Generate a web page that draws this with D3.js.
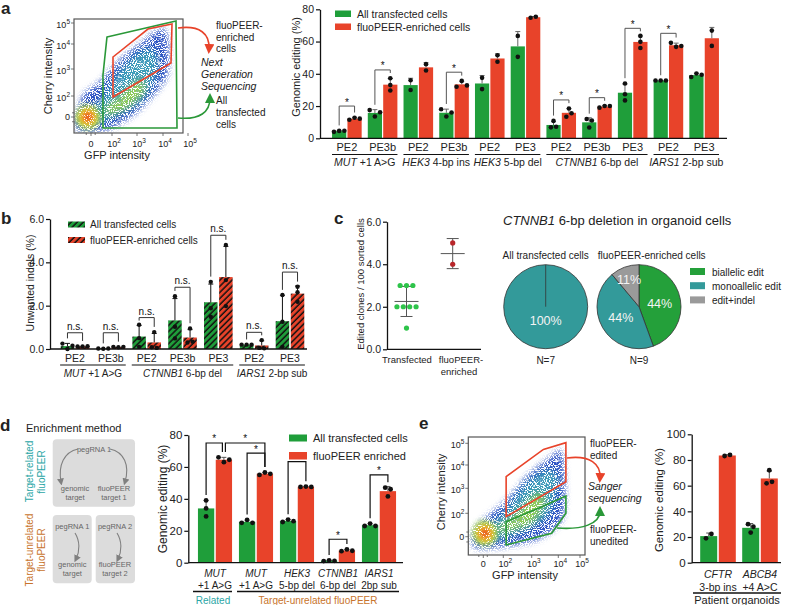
<!DOCTYPE html>
<html>
<head>
<meta charset="utf-8">
<script src="https://cdn.jsdelivr.net/npm/d3@7"></script>
<style>
body { margin: 0; background: #fff; }
svg text { font-family: 'Liberation Sans', Arial, Helvetica, sans-serif; fill: #222; white-space: pre; }
</style>
</head>
<body>
<svg id="fig" width="790" height="605"></svg>
<script>
// ---------- data ----------
// panel a: genomic editing per strategy
const aGroups = ["PE2", "PE3b", "PE2", "PE3b", "PE2", "PE3", "PE2", "PE3b", "PE3", "PE2", "PE3"];
const aGreen = [[4, 4.6, 4.7], [17.5, 13.5, 16.2], [36, 30], [18, 13.5, 16], [37.5, 30.5], [63.5, 50.5],
                [6.8, 10.8, 7.2], [12, 6.7, 11], [34, 27.3, 23.5], [35.8, 35.8, 35.8], [38, 40.2, 39.4]];
const aRed = [[11.5, 12.7, 12.2], [37.2, 33, 29.6], [46, 42], [32, 35.6, 32.8], [51.5, 47.5], [74.8, 75.4],
              [13.4, 18.5, 15.5], [19, 20, 20], [63.5, 59.8, 56], [59.2, 56.7, 57.2], [66.8, 57.3]];
const aSig = [20, 42.4, null, 41, null, null, 23.8, 25.2, 68.2, 65.1, null];
const aGenes = ["MUT", "HEK3", "HEK3", "CTNNB1", "IARS1"];
const aGeneRest = [" +1 A>G", " 4-bp ins", " 5-bp del", " 6-bp del", " 2-bp sub"];
const aGeneSpan = [[0, 1], [2, 3], [4, 5], [6, 8], [9, 10]];

// panel b: unwanted indels
const bGroups = ["PE2", "PE3b", "PE2", "PE3b", "PE3", "PE2", "PE3"];
const bGreen = [[0.25, 0.0, 0.15], [0.02, 0.01, 0.02], [1.12, 0.5, 0.1], [2.44, 1.03, 0.49], [3.1, 1.88, 1.49], [0.2, 0.2, 0.2], [2.49, 1.26, 0.1]];
const bRed = [[0.12, 0.12, 0.13], [0.1, 0.08, 0.1], [0.78, 0.08, 0.05], [0.95, 0.3, 0.34], [4.8, 3.18, 1.98], [0.05, 0.41, 0.03], [2.87, 2.18, 2.62]];
const bSig = [0.75, 0.75, 1.45, 2.85, 5.25, 0.77, 3.55];
const bGenes = ["MUT", "CTNNB1", "IARS1"];
const bGeneRest = [" +1 A>G", " 6-bp del", " 2-bp sub"];
const bGeneSpan = [[0, 1], [2, 4], [5, 6]];

// panel c: clones and pies
const cCats = ["Transfected", "fluoPEER-", "enriched"];
const cTransfected = [3, 3, 3, 2, 2, 2, 2, 1];
const cEnriched = [5, 4];
const pieCats = ["biallelic edit", "monoallelic edit", "edit+indel"];
const pieAll = [0, 7, 0];
const pieFluo = [4, 4, 1];

// panel d: enrichment method
const dGenes = ["MUT", "MUT", "HEK3", "CTNNB1", "IARS1"];
const dRest = ["+1 A>G", "+1 A>G", "5-bp del", "6-bp del", "2bp sub"];
const dGreen = [[39, 34, 29], [25, 26.8, 25], [25.5, 27, 26], [1, 1.5, 1.2], [23, 24.5, 23]];
const dRed = [[66, 63, 64.5], [55, 56.5, 55.7], [47.5, 47.7, 47.5], [7.2, 8.3, 7.5], [47, 41.5, 46]];
// [group, bar, group, bar, level]
const dBrackets = [[0, 0, 0, 1, 75], [0, 1, 1, 1, 75], [1, 0, 1, 1, 68.7], [2, 0, 2, 1, 63.3], [3, 0, 3, 1, 14.7], [4, 0, 4, 1, 55]];

// panel e: patient organoids
const eGenes = ["CFTR", "ABCB4"];
const eRest = ["3-bp ins", "+4 A>C"];
const eGreen = [[19, 22.4], [30, 28, 23.5]];
const eRed = [[83.1, 83.9], [72, 61.8, 63]];

// flow plots (decade units: 0, 10^2 .. 10^5)
const flowTicks = [0, 2, 3, 4, 5];
const flowMinor = [-0.45, 0.4];
const flowABlue = [[-1.5, -1.1], [-0.1, -1.4], [2.0, -1.05], [3.1, 0.7], [4.15, 2.7], [4.2, 4.2], [4.0, 4.75], [3.5, 4.4], [2.3, 3.35], [0.9, 2.55], [-0.6, 2.1], [-1.25, 0.7]];
const flowAMid = [[0.5, -0.5], [2.2, 0.2], [3.2, 1.6], [3.8, 3.0], [3.6, 3.8], [3.0, 3.6], [2.2, 2.8], [1.2, 1.8], [0.2, 0.8]];
const flowACore = [[1.5, 0.2], [2.6, 0.9], [3.3, 2.2], [3.1, 2.6], [2.3, 1.9], [1.5, 1.0]];
const flowAHot = [-0.3, 0];
const flowAGreen = [[1.52, 4.33], [4.52, 5.1], [4.56, -1.05], [1.14, -1.05], [1.14, 2.78]];
const flowARed = [[2.04, 3.48], [3.42, 4.71], [4.36, 4.95], [4.32, 3.24], [2.04, 1.9]];
const flowEBlue = [[-1.16, -0.28], [-0.33, 1.15], [2.12, 2.53], [2.94, 3.64], [3.81, 4.46], [4.0, 4.7], [4.23, 4.39], [4.31, 2.53], [4.08, 1.17], [3.19, -0.28], [2.0, -0.85], [-0.66, -1.0]];
const flowEMid = [[0.5, -0.4], [2.5, 0.3], [3.6, 1.8], [4.0, 3.4], [3.6, 3.8], [2.8, 3.2], [2.0, 2.0], [0.8, 1.0], [0, 0.6]];
const flowECore = [[1.8, 0.4], [3.0, 1.2], [3.5, 2.5], [3.2, 2.8], [2.4, 1.8], [1.6, 0.9]];
const flowEHot = [0.17, 0.3];
const flowERed = [[2.1, 3.5], [3.44, 4.72], [4.35, 5.03], [4.35, 3.28], [2.1, 1.71]];
const flowEGreen = [[2.1, 1.28], [3.25, 2.2], [4.35, 2.69], [4.35, 2.0], [3.75, 0.29], [2.1, -0.71]];

// ---------- setup ----------
const GREEN = "#1f9e3a", RED = "#e8432a", GATEG = "#2a9838";
const TEAL = "#2aa6a6", BROWN = "#c8742c";
const svg = d3.select("#fig");
const defs = svg.append("defs");

function txt(g, x, y, s, o = {}) {
  const t = g.append("text").attr("x", x).attr("y", y).text(s)
    .attr("text-anchor", o.anchor || "start")
    .style("font-size", (o.size || 10) + "px");
  if (o.italic) t.style("font-style", "italic");
  if (o.bold) t.style("font-weight", "bold");
  if (o.fill) t.style("fill", o.fill);
  return t;
}
function vtxt(g, x, y, s, o = {}) {
  const t = g.append("text").attr("transform", `translate(${x},${y}) rotate(-90)`)
    .attr("text-anchor", "middle").text(s).style("font-size", (o.size || 10) + "px");
  if (o.fill) t.style("fill", o.fill);
  return t;
}
function mixed(g, x, y, ital, rest, size) {
  const t = g.append("text").attr("x", x).attr("y", y).attr("text-anchor", "middle").style("font-size", size + "px");
  t.append("tspan").style("font-style", "italic").text(ital);
  t.append("tspan").text(rest);
  return t;
}

function swarm(vals, y, r) {
  const d = 2 * r + 0.6;
  const pts = vals.map((v, i) => ({ v, i, py: y(v) }));
  const sorted = pts.slice().sort((a, b) => a.py - b.py);
  const rows = [];
  sorted.forEach(p => {
    const last = rows[rows.length - 1];
    if (last && Math.abs(p.py - last[last.length - 1].py) < 2 * r) last.push(p);
    else rows.push([p]);
  });
  rows.forEach(row => {
    row.sort((a, b) => a.i - b.i);
    row.forEach((p, k) => p.dx = (k - (row.length - 1) / 2) * d);
  });
  return pts;
}

// bars with mean + SD and dots, returns bar info
function barPanel(g, o) {
  const info = [];
  o.green.forEach((gv, i) => {
    const c = o.x(i) + o.x.bandwidth() / 2;
    const pair = [[gv, o.fills[0], c - o.gap / 2 - o.barW], [o.red[i], o.fills[1], c + o.gap / 2]];
    info.push(pair.map(([vals, fill, bx]) => {
      const m = d3.mean(vals), sd = vals.length > 1 ? d3.deviation(vals) : 0;
      g.append("rect").attr("x", bx).attr("y", o.y(m)).attr("width", o.barW)
        .attr("height", o.y(0) - o.y(m)).attr("fill", fill);
      const mx = bx + o.barW / 2;
      if (sd > 0.02) {
        g.append("path").attr("d", `M${mx},${o.y(m)}V${o.y(m + sd)}M${mx - 2.5},${o.y(m + sd)}H${mx + 2.5}`)
          .attr("stroke", o.err).attr("stroke-width", 1).attr("fill", "none");
      }
      swarm(vals, o.y, o.r).forEach(p => {
        g.append("circle").attr("cx", mx + p.dx).attr("cy", p.py).attr("r", o.r).attr("fill", "#111");
      });
      return { x: mx, top: o.y(d3.max(vals)) - o.r };
    }));
  });
  return info;
}

function bracket(g, a, b, yTop, label, o) {
  const la = Math.max(yTop + 3, a.top - 3), lb = Math.max(yTop + 3, b.top - 3);
  g.append("path").attr("d", `M${a.x},${la}V${yTop}H${b.x}V${lb}`)
    .attr("fill", "none").attr("stroke", o.stroke).attr("stroke-width", o.sw || 1);
  txt(g, (a.x + b.x) / 2, yTop + o.dy, label, { anchor: "middle", size: o.size, fill: "#111" });
}

function yAxis(g, x, y, ticks, size) {
  const ax = g.append("g").attr("transform", `translate(${x},0)`)
    .call(d3.axisLeft(y).tickValues(ticks).tickSize(4).tickPadding(2).tickSizeOuter(0));
  ax.select(".domain").attr("stroke", "#111").attr("stroke-width", 1.3);
  ax.selectAll(".tick line").attr("stroke", "#111").attr("stroke-width", 1.2);
  ax.selectAll(".tick text").style("font-size", size + "px").attr("fill", null);
  ax.attr("font-family", null).attr("font-size", null);
  return ax;
}
function xLine(g, x0, x1, y) {
  g.append("line").attr("x1", x0).attr("x2", x1).attr("y1", y).attr("y2", y)
    .attr("stroke", "#111").attr("stroke-width", 1.3);
}

// patterns / filters / markers
function hatch(id, color) {
  const p = defs.append("pattern").attr("id", id).attr("patternUnits", "userSpaceOnUse")
    .attr("width", 4.3).attr("height", 4.3).attr("patternTransform", "rotate(45)");
  p.append("rect").attr("width", 4.3).attr("height", 4.3).attr("fill", color);
  p.append("line").attr("x1", 1).attr("x2", 1).attr("y1", 0).attr("y2", 4.3)
    .attr("stroke", "#111").attr("stroke-width", 1.5);
}
hatch("hatchG", GREEN);
hatch("hatchR", RED);

function speck(id, blur, offset, freq) {
  const f = defs.append("filter").attr("id", id).attr("x", "-30%").attr("y", "-30%")
    .attr("width", "160%").attr("height", "160%").attr("color-interpolation-filters", "sRGB");
  f.append("feGaussianBlur").attr("in", "SourceGraphic").attr("stdDeviation", blur).attr("result", "b");
  f.append("feTurbulence").attr("type", "fractalNoise").attr("baseFrequency", freq)
    .attr("numOctaves", 1).attr("seed", 7).attr("result", "n");
  f.append("feColorMatrix").attr("in", "n").attr("type", "matrix")
    .attr("values", `0 0 0 0 0  0 0 0 0 0  0 0 0 0 0  12 0 0 0 ${offset}`).attr("result", "m");
  f.append("feComposite").attr("in", "b").attr("in2", "m").attr("operator", "in");
}
speck("speckBlue", 3, -5.3, 0.95);
speck("speckMid", 3.5, -5.1, 0.95);
speck("speckHot", 2.5, -4.2, 0.95);
const hot = defs.append("radialGradient").attr("id", "hotGrad");
[[0, "#d8281a"], [0.3, "#f07a22"], [0.55, "#f2d634"], [0.8, "#98d24c"], [1, "rgba(120,200,90,0)"]]
  .forEach(([o, c]) => hot.append("stop").attr("offset", o).attr("stop-color", c));

function marker(id, color, w) {
  defs.append("marker").attr("id", id).attr("viewBox", "0 0 10 10").attr("refX", 5).attr("refY", 5)
    .attr("markerUnits", "userSpaceOnUse").attr("markerWidth", w).attr("markerHeight", w).attr("orient", "auto")
    .append("path").attr("d", "M0,0L10,5L0,10z").attr("fill", color);
}
marker("arrR", RED, 10);
marker("arrG", GATEG, 10);
marker("arrGrey", "#808080", 7);

// flow cytometry plot
function flowPanel(g, o) {
  const x = d3.scaleLinear().domain(flowTicks).range(o.xr);
  const y = d3.scaleLinear().domain(flowTicks).range(o.yr);
  const [bx0, by0, bx1, by1] = o.box;
  defs.append("clipPath").attr("id", "clip" + o.id).append("rect")
    .attr("x", bx0).attr("y", by0).attr("width", bx1 - bx0).attr("height", by1 - by0);
  const cg = g.append("g").attr("clip-path", `url(#clip${o.id})`);
  const cloud = d3.line().x(d => x(d[0])).y(d => y(d[1])).curve(d3.curveCardinalClosed.tension(0.2));
  cg.append("path").attr("d", cloud(o.blue)).attr("fill", "#2c52c4").attr("filter", "url(#speckBlue)");
  cg.append("path").attr("d", cloud(o.mid)).attr("fill", "#3a9cb8").attr("filter", "url(#speckMid)");
  cg.append("path").attr("d", cloud(o.core)).attr("fill", "#96d04e").attr("filter", "url(#speckMid)");
  cg.append("circle").attr("cx", x(o.hot[0])).attr("cy", y(o.hot[1])).attr("r", 14)
    .attr("fill", "url(#hotGrad)").attr("filter", "url(#speckHot)");
  g.append("rect").attr("x", bx0).attr("y", by0).attr("width", bx1 - bx0).attr("height", by1 - by0)
    .attr("fill", "none").attr("stroke", "#555").attr("stroke-width", 1.2);
  const tk = g.append("g").attr("stroke", "#555").attr("stroke-width", 0.8);
  flowTicks.forEach(t => {
    tk.append("line").attr("x1", x(t)).attr("x2", x(t)).attr("y1", by1).attr("y2", by1 + 3);
    tk.append("line").attr("x1", bx0).attr("x2", bx0 - 3).attr("y1", y(t)).attr("y2", y(t));
  });
  flowMinor.forEach(t => {
    tk.append("line").attr("x1", x(t)).attr("x2", x(t)).attr("y1", by1).attr("y2", by1 + 2);
    tk.append("line").attr("x1", bx0).attr("x2", bx0 - 2).attr("y1", y(t)).attr("y2", y(t));
  });
  flowTicks.forEach(t => {
    const lab = (px, py, anchor) => {
      const te = g.append("text").attr("x", px).attr("y", py).attr("text-anchor", anchor).style("font-size", "9px");
      if (t === 0) te.text("0");
      else {
        te.append("tspan").text("10");
        te.append("tspan").attr("dy", -4).style("font-size", "6.5px").text(t);
      }
    };
    lab(x(t) + (t === 0 ? 0 : 2), by1 + o.labDy, "middle");
    lab(bx0 - 4, y(t) + 3 + (t === 0 ? 0 : 2), "end");
  });
  const gl = d3.line().x(d => x(d[0])).y(d => y(d[1]));
  o.gates.forEach(([pts, c]) => {
    g.append("path").attr("d", gl(pts) + "Z").attr("fill", "none").attr("stroke", c).attr("stroke-width", 1.6);
  });
}

// ---------- panel letters ----------
txt(svg, 1, 14, "a", { size: 17, bold: true });
txt(svg, 1, 224, "b", { size: 17, bold: true });
txt(svg, 334, 224, "c", { size: 17, bold: true });
txt(svg, 0, 431, "d", { size: 17, bold: true });
txt(svg, 419, 429, "e", { size: 17, bold: true });

// ---------- a: flow ----------
const gAf = svg.append("g");
flowPanel(gAf, {
  id: "A", box: [74, 19, 183, 133], xr: [91, 112, 137, 163, 188], yr: [117, 96, 69, 44, 23], labDy: 13.5,
  blue: flowABlue, mid: flowAMid, core: flowACore, hot: flowAHot,
  gates: [[flowAGreen, GATEG], [flowARed, RED]]
});
vtxt(gAf, 52, 76, "Cherry intensity", { size: 11 });
txt(gAf, 117, 159, "GFP intensity", { anchor: "middle", size: 11 });
gAf.append("path").attr("d", "M178,28 C200,25 210,34 209,49").attr("fill", "none").attr("stroke", RED)
  .attr("stroke-width", 1.6).attr("marker-end", "url(#arrR)");
gAf.append("path").attr("d", "M178,118 C200,120 210,112 210,98").attr("fill", "none").attr("stroke", GATEG)
  .attr("stroke-width", 1.6).attr("marker-end", "url(#arrG)");
["fluoPEER-", "enriched", "cells"].forEach((s, i) => txt(gAf, 216, 29 + i * 11.5, s, { size: 10 }));
["Next", "Generation", "Sequencing"].forEach((s, i) => txt(gAf, 201, 66 + i * 12, s, { size: 10.5, italic: true }));
["All", "transfected", "cells"].forEach((s, i) => txt(gAf, 216, 104 + i * 12, s, { size: 10 }));

// ---------- a: bars ----------
const gA = svg.append("g");
const ya = d3.scaleLinear().domain([0, 80]).range([138.3, 9.3]);
const xa = d3.scaleBand().domain(d3.range(aGroups.length)).range([329, 722]);
const aInfo = barPanel(gA, { x: xa, y: ya, green: aGreen, red: aRed, barW: 14.2, gap: 1.2, r: 2.3, fills: [GREEN, RED], err: "#666" });
yAxis(gA, 320, ya, [0, 20, 40, 60, 80], 10.5);
xLine(gA, 320, 727, ya(0));
vtxt(gA, 299.5, 67, "Genomic editing (%)", { size: 11 });
aSig.forEach((lv, i) => {
  if (lv == null) return;
  bracket(gA, aInfo[i][0], aInfo[i][1], ya(lv), "*", { stroke: "#555", dy: -0.5, size: 10 });
});
aGroups.forEach((s, i) => txt(gA, xa(i) + xa.bandwidth() / 2, 151, s, { anchor: "middle", size: 11 }));
aGenes.forEach((s, k) => {
  const [f, t] = aGeneSpan[k];
  const x0 = xa(f) + 3, x1 = xa(t) + xa.bandwidth() - 3;
  gA.append("line").attr("x1", x0).attr("x2", x1).attr("y1", 154.5).attr("y2", 154.5).attr("stroke", "#111").attr("stroke-width", 1.1);
  mixed(gA, (x0 + x1) / 2, 166, s, aGeneRest[k], 10.5);
});
gA.append("rect").attr("x", 335).attr("y", 10.5).attr("width", 16).attr("height", 6.5).attr("fill", GREEN);
gA.append("rect").attr("x", 335).attr("y", 23.5).attr("width", 16).attr("height", 6.5).attr("fill", RED);
txt(gA, 357, 17.5, "All transfected cells", { size: 10.5 });
txt(gA, 357, 31, "fluoPEER-enriched cells", { size: 10.5 });

// ---------- b ----------
const gB = svg.append("g");
const yb = d3.scaleLinear().domain([0, 6]).range([349, 219]);
const xb = d3.scaleBand().domain(d3.range(bGroups.length)).range([57.1, 307.9]);
const bInfo = barPanel(gB, { x: xb, y: yb, green: bGreen, red: bRed, barW: 13.5, gap: 1.6, r: 2.2, fills: ["url(#hatchG)", "url(#hatchR)"], err: "#111" });
yAxis(gB, 50, yb, [0, 2, 4, 6], 10.5);
xLine(gB, 50, 307, yb(0));
vtxt(gB, 34, 283, "Unwanted indels (%)", { size: 10.5 });
bSig.forEach((lv, i) => bracket(gB, bInfo[i][0], bInfo[i][1], yb(lv), "n.s.", { stroke: "#333", dy: -3, size: 10 }));
bGroups.forEach((s, i) => txt(gB, xb(i) + xb.bandwidth() / 2, 362, s, { anchor: "middle", size: 10.5 }));
bGenes.forEach((s, k) => {
  const [f, t] = bGeneSpan[k];
  const x0 = xb(f) + 3, x1 = xb(t) + xb.bandwidth() - 3;
  gB.append("line").attr("x1", x0).attr("x2", x1).attr("y1", 365).attr("y2", 365).attr("stroke", "#111").attr("stroke-width", 1.1);
  mixed(gB, (x0 + x1) / 2, 377, s, bGeneRest[k], 10);
});
gB.append("rect").attr("x", 68).attr("y", 221.5).attr("width", 17).attr("height", 6).attr("fill", "url(#hatchG)");
gB.append("rect").attr("x", 68).attr("y", 237).attr("width", 17).attr("height", 6).attr("fill", "url(#hatchR)");
txt(gB, 90, 227.5, "All transfected cells", { size: 10 });
txt(gB, 90, 244, "fluoPEER-enriched cells", { size: 10 });

// ---------- c: scatter ----------
const gC = svg.append("g");
const yc = d3.scaleLinear().domain([0, 6]).range([349.3, 221.7]);
const xc = d3.scalePoint().domain([0, 1]).range([406.5, 452.7]);
yAxis(gC, 387, yc, [0, 2, 4, 6], 10.5);
xLine(gC, 387, 481, yc(0));
vtxt(gC, 364, 284, "Edited clones / 100 sorted cells", { size: 9.5 });
[[cTransfected, "#2ec44a"], [cEnriched, "#b8262a"]].forEach(([vals, col], i) => {
  const cx = xc(i), m = d3.mean(vals), sd = d3.deviation(vals);
  gC.append("path").attr("d", `M${cx - 12},${yc(m)}H${cx + 12}M${cx},${yc(m - sd)}V${yc(m + sd)}M${cx - 6},${yc(m - sd)}H${cx + 6}M${cx - 6},${yc(m + sd)}H${cx + 6}`)
    .attr("stroke", "#555").attr("stroke-width", 1).attr("fill", "none");
  swarm(vals, yc, 2.6).forEach(p => gC.append("circle").attr("cx", cx + p.dx * 1.1).attr("cy", p.py).attr("r", 2.6).attr("fill", col));
});
txt(gC, 407, 363, cCats[0], { anchor: "middle", size: 9.5 });
txt(gC, 461, 363, cCats[1], { anchor: "middle", size: 9.5 });
txt(gC, 459, 375, cCats[2], { anchor: "middle", size: 9.5 });

// ---------- c: pies ----------
const pieColors = ["#24a03a", "#339a9a", "#9a9a9a"];
const R = 42;
const arc = d3.arc().innerRadius(0).outerRadius(R);
const pie = d3.pie().sort(null).value(d => d);
{
  const t = gC.append("text").attr("x", 503).attr("y", 225).style("font-size", "13px");
  t.append("tspan").style("font-style", "italic").text("CTNNB1");
  t.append("tspan").text(" 6-bp deletion in organoid cells");
}
function drawPie(cx, cy, vals, title, tx, n) {
  const gp = gC.append("g").attr("transform", `translate(${cx},${cy})`);
  const total = d3.sum(vals);
  pie(vals).forEach((a, i) => {
    if (a.value === 0) return;
    gp.append("path").attr("d", arc(a)).attr("fill", pieColors[i]).attr("stroke", "#333").attr("stroke-width", 0.8);
    const frac = a.value / total, mid = (a.startAngle + a.endAngle) / 2;
    const rr = frac === 1 ? 14 : frac < 0.2 ? 0.7 * R : 0.5 * R;
    txt(gp, Math.sin(mid) * rr, -Math.cos(mid) * rr + 4.5, Math.round(frac * 100) + "%", { anchor: "middle", size: 12.5, fill: "#f4f4f4" });
  });
  if (vals.filter(v => v > 0).length === 1) {
    gp.append("line").attr("x1", 0).attr("y1", 0).attr("x2", 0).attr("y2", -R).attr("stroke", "#333").attr("stroke-width", 0.8);
  }
  txt(gC, tx, 259, title, { anchor: "middle", size: 10 });
  txt(gC, cx, 364, "N=" + n, { anchor: "middle", size: 10 });
}
drawPie(545.7, 306.7, pieAll, "All transfected cells", 545.7, d3.sum(pieAll));
drawPie(639, 306.7, pieFluo, "fluoPEER-enriched cells", 651.7, d3.sum(pieFluo));
pieCats.forEach((s, i) => {
  gC.append("rect").attr("x", 690).attr("y", 268 + i * 14.2).attr("width", 15).attr("height", 7).attr("fill", pieColors[i]);
  txt(gC, 712, 275.5 + i * 14.2, s, { size: 10 });
});

// ---------- d: schematic ----------
const gS = svg.append("g");
txt(gS, 26, 432, "Enrichment method", { size: 11 });
[[52.7, 439.3, 82.3, 67.4], [52.7, 515, 39, 68.3], [95.7, 515, 39.3, 68.3]].forEach(([x, y, w, h]) => {
  gS.append("rect").attr("x", x).attr("y", y).attr("width", w).attr("height", h).attr("rx", 4).attr("fill", "#dcdcdc");
});
const sc = { size: 7.5, fill: "#666", anchor: "middle" };
txt(gS, 94, 451.5, "pegRNA 1", sc);
txt(gS, 75, 490.5, "genomic", sc); txt(gS, 75, 499.5, "target", sc);
txt(gS, 114, 490.5, "fluoPEER", sc); txt(gS, 114, 499.5, "target 1", sc);
txt(gS, 72.3, 529, "pegRNA 1", sc);
txt(gS, 72.3, 567, "genomic", sc); txt(gS, 72.3, 576, "target", sc);
txt(gS, 115, 529, "pegRNA 2", sc);
txt(gS, 115, 567, "fluoPEER", sc); txt(gS, 115, 576, "target 2", sc);
["M78,449 C64,452 58,465 61,482", "M110,449 C124,452 130,465 125,482", "M75,533 C80,541 80,551 76,559", "M117,533 C122,541 122,551 118,559"]
  .forEach(d => gS.append("path").attr("d", d).attr("fill", "none").attr("stroke", "#808080").attr("stroke-width", 1.1).attr("marker-end", "url(#arrGrey)"));
vtxt(gS, 33, 471.5, "Target-related", { size: 10, fill: TEAL });
vtxt(gS, 45, 472, "fluoPEER", { size: 10, fill: TEAL });
vtxt(gS, 33, 550, "Target-unrelated", { size: 10, fill: BROWN });
vtxt(gS, 45, 550, "fluoPEER", { size: 10, fill: BROWN });

// ---------- d: bars ----------
const gD = svg.append("g");
const yd = d3.scaleLinear().domain([0, 80]).range([562.7, 435]);
const xd = d3.scaleBand().domain(d3.range(dGenes.length)).range([194.5, 399.5]);
const dInfo = barPanel(gD, { x: xd, y: yd, green: dGreen, red: dRed, barW: 16.3, gap: 1.5, r: 2.4, fills: [GREEN, RED], err: "#555" });
yAxis(gD, 188.3, yd, [0, 20, 40, 60, 80], 11.5);
xLine(gD, 188.3, 403, yd(0));
vtxt(gD, 166.5, 499, "Genomic editing (%)", { size: 12 });
dBrackets.forEach(([g1, b1, g2, b2, lv], k) => {
  const a = Object.assign({}, dInfo[g1][b1]), b = Object.assign({}, dInfo[g2][b2]);
  if (k === 0) b.x -= 1.5;
  if (k === 1) a.x += 1.5;
  bracket(gD, a, b, yd(lv), "*", { stroke: "#111", sw: 1.2, dy: -0.5, size: 10 });
});
dGenes.forEach((s, i) => {
  const cx = xd(i) + xd.bandwidth() / 2;
  txt(gD, cx, 577, s, { anchor: "middle", size: 10, italic: true });
  txt(gD, cx, 589, dRest[i], { anchor: "middle", size: 10 });
});
xLine(gD, 193, 232, 591.5);
xLine(gD, 237, 399, 591.5);
txt(gD, 213, 603.5, "Related", { anchor: "middle", size: 10, fill: TEAL });
txt(gD, 318, 603.5, "Target-unrelated fluoPEER", { anchor: "middle", size: 10, fill: BROWN });
gD.append("rect").attr("x", 289).attr("y", 434.5).attr("width", 18).attr("height", 7).attr("fill", GREEN);
gD.append("rect").attr("x", 289).attr("y", 452).attr("width", 18).attr("height", 7.5).attr("fill", RED);
txt(gD, 313, 442, "All transfected cells", { size: 11 });
txt(gD, 313, 460, "fluoPEER enriched", { size: 11 });

// ---------- e: flow ----------
const gEf = svg.append("g");
flowPanel(gEf, {
  id: "E", box: [468.3, 437, 585, 555], xr: [483.3, 503.3, 531.7, 558.3, 580], yr: [536.7, 513.3, 488.3, 465, 443.3], labDy: 11.5,
  blue: flowEBlue, mid: flowEMid, core: flowECore, hot: flowEHot,
  gates: [[flowEGreen, GATEG], [flowERed, RED]]
});
vtxt(gEf, 445, 492, "Cherry intensity", { size: 11 });
txt(gEf, 525, 578.5, "GFP intensity", { anchor: "middle", size: 11 });
gEf.append("path").attr("d", "M567,458 C590,455 601,464 600,478").attr("fill", "none").attr("stroke", RED)
  .attr("stroke-width", 1.6).attr("marker-end", "url(#arrR)");
gEf.append("path").attr("d", "M557,528 C582,530 600,524 600,511").attr("fill", "none").attr("stroke", GATEG)
  .attr("stroke-width", 1.6).attr("marker-end", "url(#arrG)");
txt(gEf, 590, 446.5, "fluoPEER-", { size: 10 });
txt(gEf, 590, 458.5, "edited", { size: 10 });
txt(gEf, 588, 490, "Sanger", { size: 10.5, italic: true });
txt(gEf, 588, 502, "sequencing", { size: 10.5, italic: true });
txt(gEf, 590, 533, "fluoPEER-", { size: 10 });
txt(gEf, 590, 545, "unedited", { size: 10 });

// ---------- e: bars ----------
const gE = svg.append("g");
const ye = d3.scaleLinear().domain([0, 100]).range([562.7, 434.3]);
const xe = d3.scaleBand().domain(d3.range(eGenes.length)).range([697, 781]);
barPanel(gE, { x: xe, y: ye, green: eGreen, red: eRed, barW: 17, gap: 1.6, r: 2.4, fills: [GREEN, RED], err: "#555" });
yAxis(gE, 691.7, ye, [0, 20, 40, 60, 80, 100], 11.5);
xLine(gE, 691.7, 781, ye(0));
vtxt(gE, 663, 500, "Genomic editing (%)", { size: 11.5 });
eGenes.forEach((s, i) => {
  const cx = xe(i) + xe.bandwidth() / 2;
  txt(gE, cx, 578, s, { anchor: "middle", size: 10.5, italic: true });
  txt(gE, cx, 590.5, eRest[i], { anchor: "middle", size: 10.5 });
});
xLine(gE, 693, 781, 593);
txt(gE, 737, 604, "Patient organoids", { anchor: "middle", size: 11 });
</script>
</body>
</html>
